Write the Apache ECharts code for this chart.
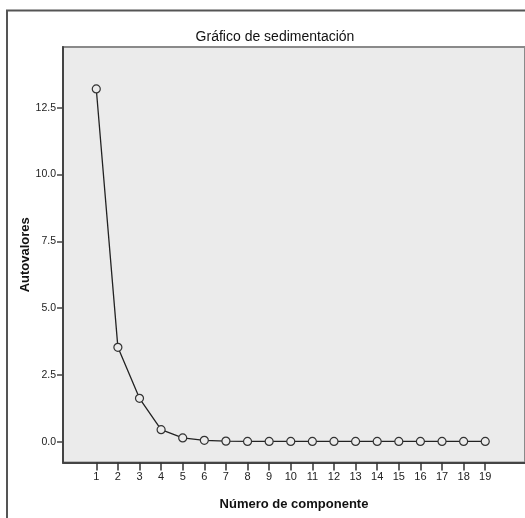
<!DOCTYPE html>
<html>
<head>
<meta charset="utf-8">
<script src="https://cdn.jsdelivr.net/npm/echarts@6/dist/echarts.min.js"></script>
<style>
  html, body { margin: 0; padding: 0; background: #fff; }
  #chart { width: 525px; height: 518px; }
</style>
</head>
<body>
<div id="chart"></div>
<script>
// componentes y autovalores
var componentes = [1, 2, 3, 4, 5, 6, 7, 8, 9, 10, 11, 12, 13, 14, 15, 16, 17, 18, 19];
var autovalores = [13.2, 3.53, 1.62, 0.45, 0.14, 0.05, 0.02, 0.01, 0.01, 0.01, 0.01, 0.01, 0.01, 0.01, 0.01, 0.01, 0.01, 0.01, 0.01];
var yTicks = [0, 2.5, 5, 7.5, 10, 12.5];

var fuente = 'Liberation Sans';

var datos = [];
for (var i = 0; i < componentes.length; i++) {
    datos.push([componentes[i], autovalores[i]]);
}

var option = {
    animation: false,
    backgroundColor: '#fff',
    title: {
        text: 'Gráfico de sedimentación',
        left: 270,
        top: 25,
        textAlign: 'center',
        textStyle: { fontFamily: fuente, fontSize: 14, fontWeight: 'normal', color: '#111' }
    },
    graphic: [{
        type: 'rect',
        shape: { x: 7, y: 10.5, width: 530, height: 530 },
        style: { fill: 'none', stroke: '#555', lineWidth: 2 },
        z: 10
    }],
    grid: {
        left: 63, top: 47, right: -12, bottom: 55.5,
        show: true,
        backgroundColor: '#ebebeb',
        borderColor: '#8a8a8a',
        borderWidth: 2
    },
    xAxis: {
        type: 'value',
        min: -0.54,
        max: 20.84,
        name: 'Número de componente',
        nameLocation: 'middle',
        nameGap: 35,
        nameMoveOverlap: false,
        nameTextStyle: { fontFamily: fuente, fontSize: 13, fontWeight: 'bold', color: '#111' },
        axisLine: { onZero: false, lineStyle: { color: '#444', width: 2 } },
        axisTick: { show: true, inside: false, length: 8, customValues: componentes, lineStyle: { color: '#333', width: 1.5 } },
        axisLabel: { customValues: componentes, fontFamily: fuente, fontSize: 11, color: '#222', margin: 9 },
        splitLine: { show: false },
        z: 5
    },
    yAxis: {
        type: 'value',
        min: -0.78,
        max: 14.77,
        name: 'Autovalores',
        nameLocation: 'middle',
        nameGap: 31,
        nameMoveOverlap: false,
        nameTextStyle: { fontFamily: fuente, fontSize: 13, fontWeight: 'bold', color: '#111' },
        axisLine: { show: true, onZero: false, lineStyle: { color: '#444', width: 2 } },
        axisTick: { show: true, length: 6, customValues: yTicks, lineStyle: { color: '#444', width: 1.5 } },
        axisLabel: {
            customValues: yTicks,
            fontFamily: fuente, fontSize: 10.5, color: '#222', margin: 7,
            formatter: function (v) { return v.toFixed(1); }
        },
        splitLine: { show: false }
    },
    series: [{
        type: 'line',
        data: datos,
        symbol: 'circle',
        symbolSize: 8,
        lineStyle: { color: '#222', width: 1.3 },
        itemStyle: { color: '#ebebeb', borderColor: '#333', borderWidth: 1.2 }
    }]
};

var myChart = echarts.init(document.getElementById('chart'));
myChart.setOption(option);
</script>
</body>
</html>
